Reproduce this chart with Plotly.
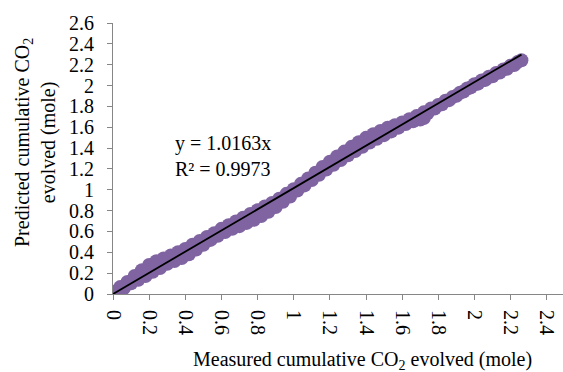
import plotly.graph_objects as go

# Run A: measured vs predicted cumulative CO2 (mole)
measured_a = [0.00, 0.04, 0.08, 0.12, 0.16, 0.20, 0.24, 0.28, 0.32, 0.36, 0.40, 0.44, 0.48, 0.52,
              0.56, 0.60, 0.64, 0.68, 0.72, 0.76, 0.80, 0.84, 0.88, 0.92, 0.96, 1.00, 1.04, 1.08,
              1.12, 1.16, 1.20, 1.24, 1.28, 1.32, 1.36, 1.40, 1.44, 1.48, 1.52, 1.56, 1.60, 1.64,
              1.68, 1.72, 1.76, 1.80, 1.84, 1.88, 1.92, 1.96, 2.00, 2.04, 2.08, 2.12, 2.16, 2.20,
              2.24, 2.26]
predicted_a = [0.020, 0.066, 0.116, 0.172, 0.228, 0.278, 0.314, 0.340, 0.370, 0.401, 0.432, 0.472,
               0.508, 0.548, 0.584, 0.625, 0.660, 0.696, 0.732, 0.767, 0.803, 0.839, 0.874, 0.915,
               0.961, 1.006, 1.057, 1.108, 1.163, 1.219, 1.270, 1.320, 1.366, 1.412, 1.457, 1.498,
               1.533, 1.564, 1.595, 1.620, 1.646, 1.677, 1.707, 1.743, 1.779, 1.814, 1.855, 1.891,
               1.931, 1.972, 2.013, 2.048, 2.084, 2.120, 2.155, 2.191, 2.227, 2.242]

# Run B
measured_b = [0.02, 0.06, 0.10, 0.14, 0.18, 0.22, 0.26, 0.30, 0.34, 0.38, 0.42, 0.46, 0.50, 0.54,
              0.58, 0.62, 0.66, 0.70, 0.74, 0.78, 0.82, 0.86, 0.90, 0.94, 0.98, 1.02, 1.06, 1.10,
              1.14, 1.18, 1.22, 1.26, 1.30, 1.34, 1.38, 1.42, 1.46, 1.50, 1.54, 1.58, 1.62, 1.66,
              1.70, 1.72, 1.74, 1.78, 1.82, 1.86, 1.90, 1.94, 1.98, 2.02, 2.06, 2.10, 2.14, 2.18,
              2.22]
predicted_b = [0.020, 0.056, 0.102, 0.137, 0.173, 0.214, 0.249, 0.290, 0.316, 0.346, 0.382, 0.427,
               0.473, 0.519, 0.559, 0.595, 0.626, 0.651, 0.682, 0.713, 0.748, 0.789, 0.835, 0.885,
               0.936, 0.992, 1.042, 1.093, 1.144, 1.194, 1.240, 1.286, 1.331, 1.372, 1.412, 1.453,
               1.489, 1.524, 1.560, 1.596, 1.631, 1.657, 1.673, 1.688, 1.733, 1.779, 1.820, 1.860,
               1.901, 1.942, 1.982, 2.018, 2.054, 2.089, 2.125, 2.161, 2.196]

# Linear trendline through the origin
slope = 1.0163
r_squared = 0.9973

y_ticks = [0, 0.2, 0.4, 0.6, 0.8, 1, 1.2, 1.4, 1.6, 1.8, 2, 2.2, 2.4, 2.6]
x_ticks = [0, 0.2, 0.4, 0.6, 0.8, 1, 1.2, 1.4, 1.6, 1.8, 2, 2.2, 2.4]

FONT = "Liberation Serif"
PURPLE = "#8064A2"
AXIS_GREY = "#868686"

W, H = 563, 372
L, R, T, B = 113, 0, 23, 78


def px_to_paper(px, py):
    return (px - L) / (W - L - R), (H - B - py) / (H - T - B)


fig = go.Figure()

for mx, py in ((measured_a, predicted_a), (measured_b, predicted_b)):
    fig.add_trace(go.Scatter(
        x=mx, y=py, mode="markers",
        marker=dict(color=PURPLE, size=14, line=dict(width=0)),
        showlegend=False, hoverinfo="skip",
    ))

x_max = max(measured_a + measured_b)
fig.add_trace(go.Scatter(
    x=[0, x_max], y=[0, slope * x_max], mode="lines",
    line=dict(color="black", width=1.8), showlegend=False,
))

axis_common = dict(
    showgrid=False, zeroline=False, showline=True, linecolor=AXIS_GREY, linewidth=1,
    ticks="outside", ticklen=5, tickcolor=AXIS_GREY, tickwidth=1,
    tickfont=dict(family=FONT, size=20, color="black"),
)

fig.update_xaxes(range=[0, 2.49], tickvals=x_ticks, ticktext=[f"{v:g}" for v in x_ticks],
                 tickangle=90, ticklabelstandoff=6, **axis_common)
fig.update_yaxes(range=[0, 2.6], tickvals=y_ticks, ticktext=[f"{v:g}" for v in y_ticks],
                 ticklabelstandoff=9, **axis_common)

ex, ey = px_to_paper(173, 130)
xt, yt = px_to_paper(362, 360)
yx, yy = px_to_paper(35, 143)

fig.update_layout(
    width=W, height=H, margin=dict(l=L, r=R, t=T, b=B),
    plot_bgcolor="white", paper_bgcolor="white",
    font=dict(family=FONT, color="black"),
    annotations=[
        dict(x=ex, y=ey, xref="paper", yref="paper", xanchor="left", yanchor="top",
             text=f"y = {slope}x<br>R² = {r_squared}", showarrow=False, align="left",
             font=dict(family=FONT, size=20)),
        dict(x=xt, y=yt, xref="paper", yref="paper", xanchor="center", yanchor="middle",
             text="Measured cumulative CO<sub>2</sub> evolved (mole)", showarrow=False,
             font=dict(family=FONT, size=20)),
        dict(x=yx, y=yy, xref="paper", yref="paper", xanchor="center", yanchor="middle",
             text="Predicted cumulative CO<sub>2</sub><br>evolved (mole)", showarrow=False,
             textangle=-90, font=dict(family=FONT, size=20)),
    ],
)

fig.write_html("out.html")
